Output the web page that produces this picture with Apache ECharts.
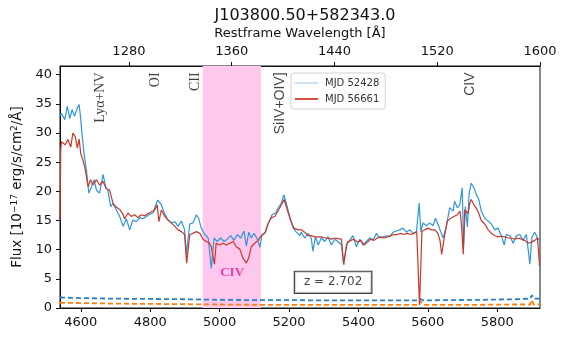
<!DOCTYPE html>
<html>
<head>
<meta charset="utf-8">
<script src="https://cdn.jsdelivr.net/npm/echarts@6/dist/echarts.min.js"></script>
<style>
  html, body { margin: 0; padding: 0; background: #fff; }
  #main { width: 568px; height: 337px; }
</style>
</head>
<body>
<div id="main"></div>
<script>
// redshift used for the top (restframe) axis
const zRed = 2.702
const obsMin = 4540
const obsMax = 1600 * (1 + zRed)

// MJD 52428 (blue)
const waveBlue = [4540, 4544, 4554, 4561, 4568, 4575, 4582, 4590, 4595, 4600, 4603, 4609, 4616, 4623, 4630, 4638, 4645, 4654, 4664, 4672,
  4678, 4686, 4693, 4702, 4712, 4722, 4731, 4741, 4750, 4760, 4770, 4779, 4789, 4799, 4808, 4818, 4822, 4832, 4842, 4851,
  4861, 4871, 4880, 4890, 4899, 4904, 4914, 4923, 4933, 4940, 4947, 4957, 4967, 4976, 4984, 4993, 5003, 5013, 5022, 5032,
  5041, 5051, 5061, 5070, 5077, 5084, 5091, 5099, 5109, 5116, 5122, 5132, 5141, 5151, 5161, 5168, 5178, 5185, 5192, 5202,
  5212, 5221, 5231, 5235, 5245, 5255, 5264, 5269, 5276, 5284, 5293, 5303, 5312, 5322, 5332, 5341, 5351, 5358, 5365, 5375,
  5384, 5394, 5404, 5413, 5423, 5433, 5442, 5452, 5461, 5471, 5480, 5490, 5500, 5509, 5519, 5529, 5538, 5548, 5557, 5567,
  5575, 5580, 5586, 5596, 5605, 5615, 5622, 5629, 5637, 5644, 5653, 5663, 5673, 5677, 5685, 5692, 5699, 5703, 5708, 5714,
  5719, 5725, 5733, 5740, 5747, 5754, 5764, 5774, 5783, 5793, 5802, 5812, 5820, 5826, 5836, 5846, 5855, 5865, 5874, 5884,
  5894, 5900, 5908, 5916, 5923]
const fluxBlue = [33.0, 33.4, 32.3, 34.6, 32.5, 34.0, 32.9, 34.3, 34.9, 32.3, 30.0, 26.6, 23.7, 19.7, 20.7, 22.0, 20.2, 19.7, 22.9, 20.7,
  20.2, 17.4, 17.9, 16.9, 15.7, 14.0, 15.3, 13.4, 15.1, 14.8, 15.5, 15.3, 15.7, 16.1, 16.3, 18.0, 18.5, 17.7, 16.1, 15.1,
  14.6, 14.8, 14.0, 14.9, 13.4, 9.2, 14.4, 14.6, 16.0, 15.3, 13.7, 12.6, 12.0, 6.8, 12.0, 11.4, 12.0, 11.4, 11.8, 12.4,
  11.6, 12.6, 12.0, 13.2, 10.6, 13.0, 12.0, 12.8, 11.8, 10.4, 12.6, 13.0, 14.6, 16.0, 16.3, 17.1, 18.0, 19.4, 18.0, 15.7,
  13.7, 13.0, 12.4, 13.0, 12.0, 12.8, 12.0, 9.7, 12.2, 10.8, 12.0, 11.4, 12.2, 10.8, 11.8, 11.4, 10.8, 7.4, 10.8, 11.6,
  12.4, 10.5, 11.8, 10.8, 11.4, 12.0, 11.6, 12.8, 12.0, 12.2, 12.4, 12.2, 13.0, 13.2, 13.4, 13.7, 13.0, 13.4, 12.8, 13.0,
  18.0, 13.0, 14.6, 14.1, 14.6, 14.1, 15.4, 14.4, 13.1, 12.0, 13.9, 17.2, 16.6, 18.3, 17.2, 17.7, 20.6, 10.5, 17.4, 13.9,
  19.7, 21.4, 20.6, 19.4, 18.6, 16.6, 15.4, 14.9, 14.4, 13.4, 13.7, 12.4, 10.8, 12.6, 12.4, 11.1, 12.4, 12.6, 11.6, 12.6,
  7.5, 12.2, 13.0, 12.0, 11.5]

// MJD 56661 (red)
const waveRed = [4540, 4542, 4544, 4555, 4563, 4571, 4577, 4584, 4590, 4595, 4600, 4606, 4613, 4621, 4628, 4635, 4645, 4654, 4664, 4673,
  4683, 4693, 4702, 4712, 4722, 4726, 4736, 4745, 4755, 4765, 4774, 4784, 4794, 4803, 4813, 4820, 4825, 4832, 4842, 4851,
  4861, 4871, 4880, 4890, 4899, 4905, 4914, 4923, 4933, 4943, 4952, 4962, 4971, 4976, 4985, 4990, 5000, 5010, 5019, 5029,
  5039, 5048, 5058, 5067, 5077, 5084, 5091, 5101, 5111, 5120, 5130, 5139, 5149, 5159, 5168, 5178, 5186, 5195, 5205, 5214,
  5226, 5235, 5245, 5255, 5264, 5274, 5284, 5293, 5303, 5312, 5322, 5332, 5341, 5351, 5357, 5368, 5378, 5387, 5397, 5407,
  5416, 5426, 5435, 5445, 5454, 5464, 5474, 5483, 5493, 5503, 5512, 5522, 5531, 5541, 5551, 5560, 5568, 5576, 5583, 5591,
  5601, 5610, 5620, 5629, 5635, 5640, 5647, 5656, 5666, 5675, 5685, 5693, 5698, 5702, 5706, 5711, 5716, 5721, 5725, 5733,
  5740, 5747, 5754, 5764, 5774, 5783, 5793, 5802, 5812, 5822, 5831, 5841, 5850, 5860, 5870, 5879, 5889, 5898, 5908, 5916,
  5922]
const fluxRed = [15.0, 27.0, 28.5, 28.0, 28.9, 27.6, 30.0, 29.4, 27.4, 29.0, 26.4, 25.4, 23.7, 20.8, 22.0, 21.1, 22.0, 21.1, 21.7, 20.5,
  20.2, 17.9, 17.3, 16.9, 16.0, 15.3, 16.3, 15.7, 16.0, 15.5, 16.0, 15.8, 16.2, 16.5, 16.8, 17.7, 14.8, 16.8, 15.7, 15.1,
  14.6, 14.0, 13.4, 13.1, 12.6, 7.7, 12.6, 12.8, 13.1, 12.8, 11.8, 11.4, 11.1, 10.5, 7.5, 11.1, 10.8, 11.1, 10.8, 11.1,
  11.4, 10.5, 10.1, 8.6, 7.7, 8.6, 10.5, 11.1, 11.6, 12.4, 12.8, 14.4, 15.5, 15.7, 16.6, 17.7, 18.6, 16.8, 14.9, 13.7,
  13.4, 13.4, 13.0, 12.4, 12.4, 12.2, 12.2, 12.2, 12.0, 12.0, 11.8, 12.0, 11.9, 11.8, 7.6, 11.3, 11.6, 11.8, 11.3, 11.6,
  10.8, 11.3, 11.8, 11.6, 12.0, 12.2, 12.0, 12.2, 12.4, 12.6, 12.6, 12.8, 12.6, 12.8, 12.6, 12.8, 13.1, 0.5, 13.1, 13.4,
  13.7, 13.4, 13.4, 12.8, 11.6, 9.2, 12.0, 14.9, 15.4, 15.7, 16.0, 16.6, 13.4, 9.2, 16.8, 17.1, 16.2, 18.0, 18.6, 17.7,
  17.1, 16.2, 15.0, 14.4, 13.4, 12.8, 12.4, 12.2, 12.3, 12.2, 12.0, 12.0, 11.8, 12.0, 11.8, 11.6, 11.1, 11.3, 11.6, 12.0,
  7.2]

// flux errors (dashed)
const waveErr = [4540, 4600, 4700, 4800, 4900, 5000, 5100, 5200, 5300, 5400, 5500, 5570, 5578, 5586, 5650, 5750, 5850, 5895, 5900, 5905, 5923]
const errBlue = [1.8, 1.7, 1.6, 1.55, 1.5, 1.4, 1.35, 1.35, 1.3, 1.3, 1.3, 1.3, 1.6, 1.3, 1.35, 1.4, 1.5, 1.6, 2.2, 1.6, 1.6]
const errOrange = [0.9, 0.85, 0.75, 0.7, 0.65, 0.6, 0.55, 0.55, 0.55, 0.55, 0.55, 0.55, 1.2, 0.55, 0.55, 0.55, 0.6, 0.6, 1.4, 0.6, 0.6]

// absorption window (observed frame)
const civBand = [4951, 5119]

// emission line labels
const lineNames = ['Lyα+NV', 'OI', 'CII', 'SiIV+OIV]', 'CIV']
const lineWave = [4655, 4814, 4929, 5174, 5722]
const lineFont = ['serif', 'serif', 'serif', 'sans-serif', 'sans-serif']

const restTicks = [1280, 1360, 1440, 1520, 1600]
const obsTicks = [4600, 4800, 5000, 5200, 5400, 5600, 5800]

const zip = (xs, ys) => xs.map((x, i) => [x, ys[i]])
const plain = v => String(v)

const chart = echarts.init(document.getElementById('main'))

const labelItems = lineNames.map((n, i) => ({
  value: [lineWave[i], 40.4],
  name: n,
  label: {
    show: true,
    position: 'inside',
    rotate: 90,
    align: 'right',
    verticalAlign: 'middle',
    formatter: n,
    fontFamily: lineFont[i],
    fontSize: 14,
    color: '#111'
  }
}))
labelItems.push({
  value: [5036, 6.1],
  label: {
    show: true, position: 'inside', formatter: 'CIV',
    fontFamily: 'serif', fontWeight: 'bold', fontSize: 13, color: '#f0169c'
  }
})
labelItems.push({
  value: [5327, 4.4],
  label: {
    show: true, position: 'inside', formatter: 'z = 2.702',
    fontFamily: 'DejaVu Sans', fontSize: 12, color: '#111',
    backgroundColor: '#fff', borderColor: '#111', borderWidth: 1.2,
    padding: [5, 9, 4, 9]
  }
})

const option = {
  animation: false,
  backgroundColor: '#fff',
  title: {
    text: 'J103800.50+582343.0',
    left: 300,
    textAlign: 'center',
    top: 3,
    textStyle: { fontFamily: 'DejaVu Sans', fontSize: 16, fontWeight: 'normal', color: '#111' }
  },
  grid: {
    left: 60, right: 28, top: 66, bottom: 29,
    show: true, borderColor: '#111', borderWidth: 1
  },
  legend: {
    orient: 'vertical',
    left: 291, top: 73,
    padding: [5, 6, 5, 4],
    itemGap: 6,
    itemWidth: 23,
    itemHeight: 2,
    icon: 'rect',
    borderColor: '#d0d0d0', borderWidth: 1, borderRadius: 3,
    backgroundColor: 'rgba(255,255,255,0.85)',
    textStyle: { fontFamily: 'DejaVu Sans', fontSize: 10, color: '#333', padding: [0, 0, 0, 2] },
    data: [
      { name: 'MJD 52428', itemStyle: { color: '#cde3f5' } },
      { name: 'MJD 56661', itemStyle: { color: '#d9513d' } }
    ]
  },
  xAxis: [
    {
      type: 'value',
      position: 'bottom',
      min: obsMin,
      max: obsMax,
      splitLine: { show: false },
      axisLine: { onZero: false, lineStyle: { color: '#111' } },
      axisTick: { customValues: obsTicks, length: 4, lineStyle: { color: '#111' } },
      axisLabel: { customValues: obsTicks, formatter: plain, fontFamily: 'DejaVu Sans', fontSize: 13, color: '#111', margin: 8 }
    },
    {
      type: 'value',
      position: 'top',
      min: obsMin / (1 + zRed),
      max: 1600,
      name: 'Restframe Wavelength [Å]',
      nameLocation: 'middle',
      nameGap: 20,
      nameTextStyle: { fontFamily: 'DejaVu Sans', fontSize: 13, color: '#111' },
      splitLine: { show: false },
      axisLine: { onZero: false, lineStyle: { color: '#111' } },
      axisTick: { customValues: restTicks, length: 4, lineStyle: { color: '#111' } },
      axisLabel: { customValues: restTicks, formatter: plain, fontFamily: 'DejaVu Sans', fontSize: 13, color: '#111', margin: 8 }
    }
  ],
  yAxis: {
    type: 'value',
    min: 0,
    max: 41.5,
    interval: 5,
    name: 'Flux [10{sup|−17} erg/s/cm{sup|2}/Å]',
    nameLocation: 'middle',
    nameGap: 29,
    nameRotate: 90,
    nameTextStyle: {
      fontFamily: 'DejaVu Sans', fontSize: 13.5, color: '#111',
      rich: { sup: { fontSize: 9, verticalAlign: 'top', padding: [0, 0, 6, 0], fontFamily: 'DejaVu Sans', color: '#111' } }
    },
    splitLine: { show: false },
    axisLine: { show: true, lineStyle: { color: '#111' } },
    axisTick: { show: true, length: 4, lineStyle: { color: '#111' } },
    axisLabel: { fontFamily: 'DejaVu Sans', fontSize: 13, color: '#111', margin: 8 }
  },
  series: [
    {
      name: 'band',
      type: 'line',
      z: 1,
      data: [],
      markArea: {
        silent: true,
        itemStyle: { color: '#ffc8ec', opacity: 1 },
        data: [[{ xAxis: civBand[0] }, { xAxis: civBand[1] }]]
      }
    },
    {
      name: 'errBlue',
      type: 'line',
      z: 2,
      symbol: 'none',
      data: zip(waveErr, errBlue),
      lineStyle: { color: '#2a7fc4', width: 1.8, type: [5, 3] }
    },
    {
      name: 'errOrange',
      type: 'line',
      z: 2,
      symbol: 'none',
      data: zip(waveErr, errOrange),
      lineStyle: { color: '#ff7f0e', width: 1.8, type: [5, 3] }
    },
    {
      name: 'MJD 52428',
      type: 'line',
      z: 3,
      symbol: 'none',
      data: zip(waveBlue, fluxBlue),
      lineStyle: { color: '#2f96dc', width: 1.2 },
      itemStyle: { color: '#cde3f5' }
    },
    {
      name: 'MJD 56661',
      type: 'line',
      z: 4,
      symbol: 'none',
      data: zip(waveRed, fluxRed),
      lineStyle: { color: '#c8372a', width: 1.2 },
      itemStyle: { color: '#d9513d' }
    },
    {
      name: 'labels',
      type: 'scatter',
      z: 5,
      symbolSize: 0,
      silent: true,
      data: labelItems
    }
  ]
}

chart.setOption(option)
</script>
</body>
</html>
